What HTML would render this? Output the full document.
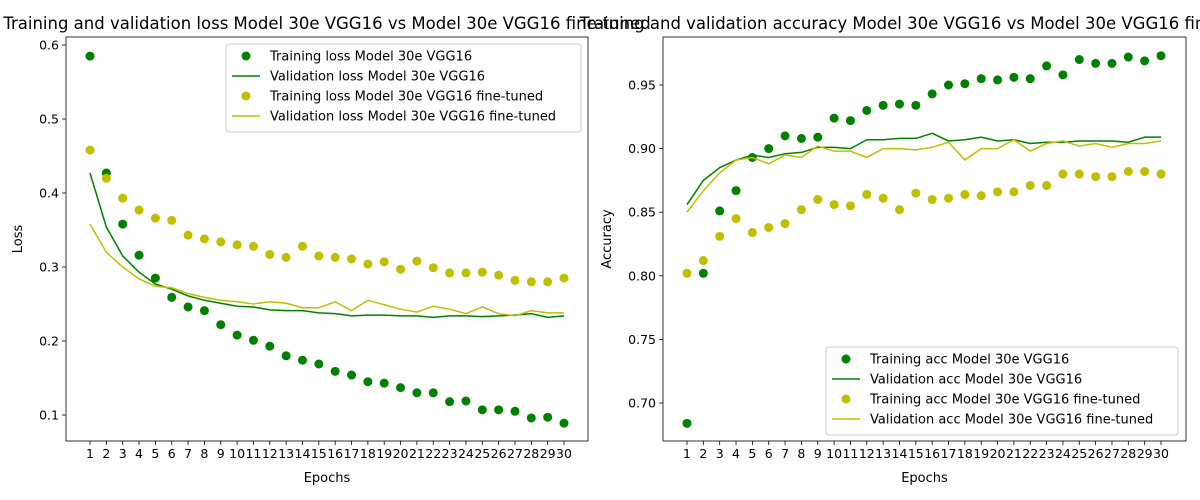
<!DOCTYPE html>
<html><head><meta charset="utf-8">
<style>
html,body{margin:0;padding:0;background:#fff;}
svg{display:block;font-family:"DejaVu Sans","Liberation Sans",sans-serif;}
</style></head>
<body>
<svg id="chart" width="1200" height="500" viewBox="0 0 1200 500" xmlns="http://www.w3.org/2000/svg"></svg>
<script>
const epochs = Array.from({length:30},(_,i)=>i+1);
const trainLoss = [0.585,0.427,0.358,0.316,0.285,0.259,0.246,0.241,0.222,0.208,0.201,0.193,0.180,0.174,0.169,0.159,0.154,0.145,0.143,0.137,0.130,0.130,0.118,0.119,0.107,0.107,0.105,0.096,0.097,0.089];
const valLoss = [0.427,0.354,0.315,0.293,0.277,0.270,0.261,0.255,0.251,0.247,0.246,0.242,0.241,0.241,0.238,0.237,0.234,0.235,0.235,0.234,0.234,0.232,0.234,0.234,0.233,0.234,0.235,0.237,0.232,0.234];
const trainLossFT = [0.458,0.420,0.393,0.377,0.366,0.363,0.343,0.338,0.334,0.330,0.328,0.317,0.313,0.328,0.315,0.313,0.311,0.304,0.307,0.297,0.308,0.299,0.292,0.292,0.293,0.289,0.282,0.280,0.280,0.285];
const valLossFT = [0.358,0.320,0.300,0.284,0.274,0.272,0.264,0.259,0.255,0.253,0.250,0.253,0.251,0.245,0.245,0.253,0.241,0.255,0.249,0.243,0.239,0.247,0.243,0.237,0.246,0.237,0.234,0.241,0.238,0.238];
const trainAcc = [0.684,0.802,0.851,0.867,0.893,0.900,0.910,0.908,0.909,0.924,0.922,0.930,0.934,0.935,0.934,0.943,0.950,0.951,0.955,0.954,0.956,0.955,0.965,0.958,0.970,0.967,0.967,0.972,0.969,0.973];
const valAcc = [0.856,0.875,0.885,0.891,0.895,0.893,0.896,0.897,0.901,0.901,0.900,0.907,0.907,0.908,0.908,0.912,0.906,0.907,0.909,0.906,0.907,0.904,0.905,0.905,0.906,0.906,0.906,0.905,0.909,0.909];
const trainAccFT = [0.802,0.812,0.831,0.845,0.834,0.838,0.841,0.852,0.860,0.856,0.855,0.864,0.861,0.852,0.865,0.860,0.861,0.864,0.863,0.866,0.866,0.871,0.871,0.880,0.880,0.878,0.878,0.882,0.882,0.880];
const valAccFT = [0.850,0.867,0.881,0.891,0.893,0.888,0.895,0.893,0.902,0.898,0.898,0.893,0.900,0.900,0.899,0.901,0.905,0.891,0.900,0.900,0.907,0.898,0.904,0.906,0.902,0.904,0.901,0.904,0.904,0.906];
const lossTicks = [0.1,0.2,0.3,0.4,0.5,0.6];
const accTicks = [0.70,0.75,0.80,0.85,0.90,0.95];

const NS="http://www.w3.org/2000/svg";
const svg=document.getElementById('chart');
const G="#008000", Y="#bfbf00";
function el(tag,attrs,parent){const e=document.createElementNS(NS,tag);for(const k in attrs)e.setAttribute(k,attrs[k]);(parent||svg).appendChild(e);return e;}
function txt(s,attrs,parent){const t=el('text',attrs,parent);t.textContent=s;return t;}

function panel(cfg){
  const g=el('g',{});
  
  
  const xs=v=>cfg.x1+(v-1)*(cfg.x30-cfg.x1)/29;
  const ys=v=>cfg.yA+(v-cfg.vA)*(cfg.yB-cfg.yA)/(cfg.vB-cfg.vA);
  epochs.forEach(e=>{
    const x=xs(e);
    el('line',{x1:x,x2:x,y1:cfg.bottom,y2:cfg.bottom+4,stroke:'#000','stroke-width':0.8},g);
    const t=txt(String(e),{x:x,y:cfg.bottom+17,'font-size':12.5,'text-anchor':'middle',fill:'#000'},g);
    
    
  });
  cfg.ticks.forEach(v=>{
    const y=ys(v);
    el('line',{x1:cfg.left-4,x2:cfg.left,y1:y,y2:y,stroke:'#000','stroke-width':0.8},g);
    const t=txt(v.toFixed(cfg.dec),{x:cfg.left-7,y:y+4.5,'font-size':12.5,'text-anchor':'end',fill:'#000'},g);
    
    
  });
  const xl=txt('Epochs',{x:(cfg.left+cfg.right)/2,y:cfg.bottom+41,'font-size':13,'text-anchor':'middle'},g);
  
  
  const yl=txt(cfg.ylabel,{x:0,y:0,'font-size':13,'text-anchor':'middle',transform:`translate(${cfg.left-cfg.ylOff},${(cfg.top+cfg.bottom)/2}) rotate(-90)`},g);
  
  
  const ti=txt(cfg.title,{x:(cfg.left+cfg.right)/2,y:cfg.top-8,'font-size':16.5,'text-anchor':'middle'},g);
  
  
  cfg.series.forEach(s=>{
    if(s.type==='line'){
      const p=el('polyline',{points:s.data.map((v,i)=>xs(epochs[i])+','+ys(v)).join(' '),fill:'none',stroke:s.color,'stroke-width':1.5},g);
      
      
    } else {
      s.data.forEach((v,i)=>{
        const c=el('circle',{cx:xs(epochs[i]),cy:ys(v),r:4.5,fill:s.color},g);
        
        
      });
    }
  });
  el('rect',{x:cfg.left,y:cfg.top,width:cfg.right-cfg.left,height:cfg.bottom-cfg.top,fill:'none',stroke:'#000','stroke-width':0.8},g);
  const L=cfg.legend;
  const lg=el('g',{},g);
  
  
  el('rect',{x:L.x,y:L.y,width:L.w,height:88,rx:3,fill:'#fff','fill-opacity':0.8,stroke:'#ccc'},lg);
  cfg.series.forEach((s,i)=>{
    const y=L.y+12+i*20;
    const e=el('g',{},lg);
    
    
    if(s.type==='line') el('line',{x1:L.x+6,x2:L.x+34,y1:y,y2:y,stroke:s.color,'stroke-width':1.5},e);
    else el('circle',{cx:L.x+20,cy:y,r:4.5,fill:s.color},e);
    txt(s.label,{x:L.x+44,y:y+4.5,'font-size':13},e);
  });
}

panel({name:'loss-chart',left:66,right:588,top:37,bottom:441,x1:90,x30:564,yA:415,vA:0.1,yB:45,vB:0.6,
  ticks:lossTicks,dec:1,ylabel:'Loss',ylOff:44,
  title:'Training and validation loss Model 30e VGG16 vs Model 30e VGG16 fine-tuned',
  legend:{x:226,y:44,w:355},
  series:[
    {id:'training-loss',type:'dot',color:G,data:trainLoss,label:'Training loss Model 30e VGG16'},
    {id:'validation-loss',type:'line',color:G,data:valLoss,label:'Validation loss Model 30e VGG16'},
    {id:'training-loss-ft',type:'dot',color:Y,data:trainLossFT,label:'Training loss Model 30e VGG16 fine-tuned'},
    {id:'validation-loss-ft',type:'line',color:Y,data:valLossFT,label:'Validation loss Model 30e VGG16 fine-tuned'}]});

panel({name:'accuracy-chart',left:663,right:1186,top:37,bottom:441,x1:687,x30:1161,yA:403,vA:0.70,yB:85,vB:0.95,
  ticks:accTicks,dec:2,ylabel:'Accuracy',ylOff:52,
  title:'Training and validation accuracy Model 30e VGG16 vs Model 30e VGG16 fine-tuned',
  legend:{x:826,y:347,w:352},
  series:[
    {id:'training-acc',type:'dot',color:G,data:trainAcc,label:'Training acc Model 30e VGG16'},
    {id:'validation-acc',type:'line',color:G,data:valAcc,label:'Validation acc Model 30e VGG16'},
    {id:'training-acc-ft',type:'dot',color:Y,data:trainAccFT,label:'Training acc Model 30e VGG16 fine-tuned'},
    {id:'validation-acc-ft',type:'line',color:Y,data:valAccFT,label:'Validation acc Model 30e VGG16 fine-tuned'}]});
</script>
</body></html>
